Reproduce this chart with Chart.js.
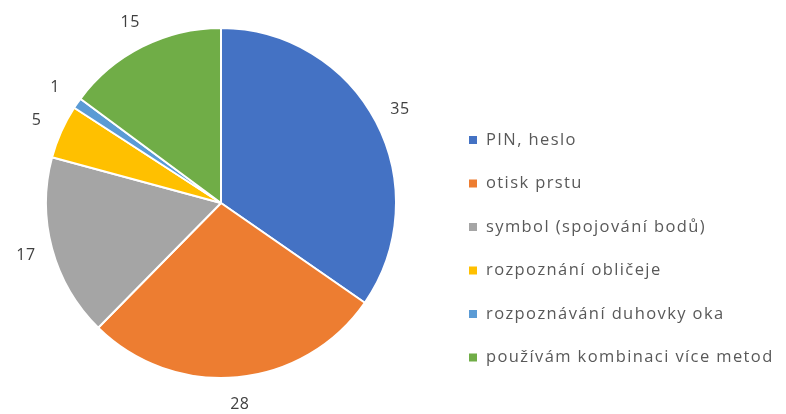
<!DOCTYPE html>
<html>
<head>
<meta charset="utf-8">
<script src="https://cdn.jsdelivr.net/npm/chart.js@4"></script>
<style>
  html, body { margin: 0; padding: 0; background: #fff; }
  #wrap { width: 786px; height: 414px; }
</style>
</head>
<body>
<div id="wrap"><canvas id="chart" width="786" height="414"></canvas></div>
<script>
const categories = [
    "PIN, heslo",
    "otisk prstu",
    "symbol (spojování bodů)",
    "rozpoznání obličeje",
    "rozpoznávání duhovky oka",
    "používám kombinaci více metod"
];
const values = [35, 28, 17, 5, 1, 15];
const colors = ["#4472c4", "#ed7d31", "#a5a5a5", "#ffc000", "#5b9bd5", "#70ad47"];

const FONT = "'Open Sans', sans-serif";

// value labels just outside each slice
const outsideLabels = {
    id: "outsideLabels",
    afterDatasetsDraw(chart) {
        const ctx = chart.ctx;
        const meta = chart.getDatasetMeta(0);
        ctx.save();
        ctx.font = "16px " + FONT;
        ctx.letterSpacing = "0.5px";
        ctx.fillStyle = "#404040";
        ctx.textAlign = "center";
        ctx.textBaseline = "middle";
        meta.data.forEach((arc, i) => {
            const mid = (arc.startAngle + arc.endAngle) / 2;
            const r = arc.outerRadius + 27;
            ctx.fillText(String(values[i]), arc.x + Math.cos(mid) * r, arc.y + Math.sin(mid) * r);
        });
        ctx.restore();
    }
};

// legend drawn by hand to match the spacing of the original
const sideLegend = {
    id: "sideLegend",
    afterDraw(chart) {
        const ctx = chart.ctx;
        ctx.save();
        ctx.font = "16.5px " + FONT;
        ctx.letterSpacing = "1.4px";
        ctx.textBaseline = "middle";
        categories.forEach((label, i) => {
            const y = 140 + i * 43.5;
            ctx.fillStyle = colors[i];
            ctx.fillRect(469, y - 4, 8, 8);
            ctx.fillStyle = "#595959";
            ctx.fillText(label, 486, y);
        });
        ctx.restore();
    }
};

new Chart(document.getElementById("chart"), {
    type: "pie",
    data: {
        labels: categories,
        datasets: [{
            data: values,
            backgroundColor: colors,
            borderColor: "#ffffff",
            borderWidth: 2
        }]
    },
    options: {
        responsive: false,
        animation: false,
        layout: { padding: { top: 27, bottom: 35, left: 45, right: 389 } },
        plugins: {
            legend: { display: false },
            tooltip: { enabled: false }
        }
    },
    plugins: [outsideLabels, sideLegend]
});
</script>
</body>
</html>
